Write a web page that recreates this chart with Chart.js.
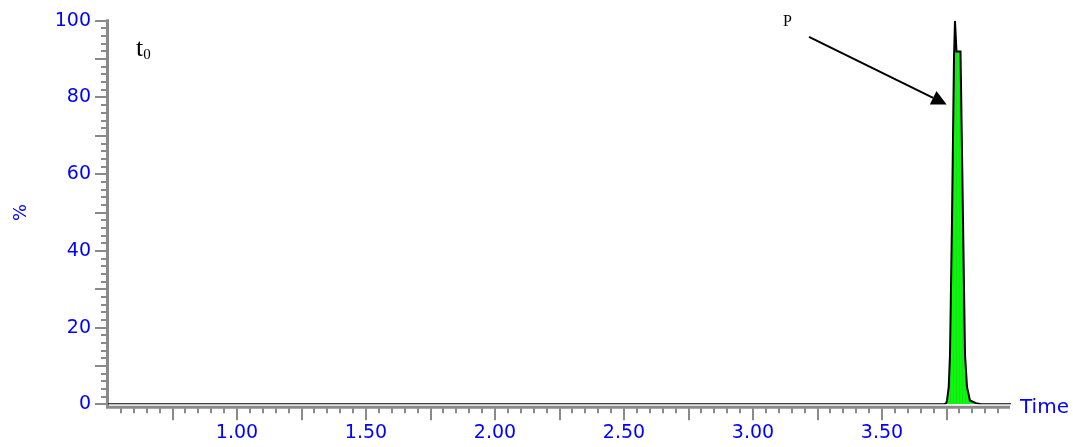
<!DOCTYPE html>
<html>
<head>
<meta charset="utf-8">
<script src="https://cdn.jsdelivr.net/npm/chart.js@4.4.1/dist/chart.umd.min.js"></script>
<style>
  html, body { margin: 0; padding: 0; background: #ffffff; overflow: hidden; }
  #wrap { width: 1073px; height: 447px; }
</style>
</head>
<body>
<div id="wrap"><canvas id="c" width="1073" height="447"></canvas></div>
<script>
// Chromatogram trace: retention time (min) and relative intensity (%)
const times     = [0.50, 3.740, 3.748, 3.752, 3.7586, 3.7636, 3.7713, 3.7790, 3.7829, 3.7887, 3.8043, 3.8140, 3.8217, 3.8295, 3.8410, 3.8643, 3.8840, 4.00];
const intensity = [0,    0,     0.2,   1.0,   4.5,    13,     48,     90,     100,    92,     92,     48,     13,     4.5,    1.0,    0.3,    0,      0];

// Axis tick labels
const xTickLabels = ['1.00', '1.50', '2.00', '2.50', '3.00', '3.50'];
const yTickLabels = ['0', '20', '40', '60', '80', '100'];

// Annotation texts
const traceLabel = 't';
const traceSub = '0';
const peakLabel = 'P';
const xTitle = 'Time';
const yTitle = '%';

const BLUE = '#0000ff';
const SANS = '"DejaVu Sans", Verdana, sans-serif';
const SERIF = '"Liberation Serif", "Times New Roman", serif';

const canvas = document.getElementById('c');
const ctx = canvas.getContext('2d');

// Striped green fill for the integrated peak
const pc = document.createElement('canvas');
pc.width = 3; pc.height = 1;
const pctx = pc.getContext('2d');
pctx.fillStyle = '#00ff00';
pctx.fillRect(0, 0, 3, 1);
pctx.fillStyle = '#27d427';
pctx.fillRect(2, 0, 1, 1);
const stripes = ctx.createPattern(pc, 'repeat');

// Gray axis lines with minor/major tick marks
const axisDecor = {
  id: 'axisDecor',
  beforeDatasetsDraw(chart) {
    const { ctx, chartArea: a, scales: { x, y } } = chart;
    ctx.save();
    ctx.strokeStyle = '#8a8a8a';
    ctx.lineWidth = 3;
    ctx.beginPath();
    ctx.moveTo(a.left - 0.5, a.top - 1.5);
    ctx.lineTo(a.left - 0.5, a.bottom + 4.5);
    ctx.moveTo(a.left - 2, a.bottom + 3);
    ctx.lineTo(a.right - 1, a.bottom + 3);
    ctx.stroke();

    ctx.lineWidth = 2;
    ctx.beginPath();
    for (let k = 0; k <= 50; k++) {
      const v = k * 2;
      const py = Math.round(y.getPixelForValue(v));
      const len = v % 10 === 0 ? 11 : 5;
      ctx.moveTo(a.left - 2, py);
      ctx.lineTo(a.left - 2 - len, py);
    }
    for (let k = 11; k <= 79; k++) {
      const px = Math.round(x.getPixelForValue(k * 0.05));
      const len = k % 5 === 0 ? 12 : 5;
      ctx.moveTo(px, a.bottom + 4);
      ctx.lineTo(px, a.bottom + 4 + len);
    }
    ctx.stroke();
    ctx.restore();
  },
  afterDraw(chart) {
    const { ctx, chartArea: a, scales: { x, y } } = chart;
    ctx.save();
    // axis caption at the right end of the time axis
    ctx.fillStyle = BLUE;
    ctx.font = '20px ' + SANS;
    ctx.textBaseline = 'alphabetic';
    ctx.textAlign = 'left';
    ctx.fillText(xTitle, a.right + 9, a.bottom + 9);

    // trace name
    ctx.fillStyle = '#000000';
    const tx = x.getPixelForValue(0.609);
    const ty = y.getPixelForValue(90.8);
    ctx.font = '26px ' + SERIF;
    ctx.fillText(traceLabel, tx, ty);
    const tw = ctx.measureText(traceLabel).width;
    ctx.font = '15px ' + SERIF;
    ctx.fillText(traceSub, tx + tw, ty + 2.5);

    // peak label with arrow
    ctx.font = '16px ' + SERIF;
    ctx.fillText(peakLabel, x.getPixelForValue(3.116), y.getPixelForValue(98.6));

    const x0 = x.getPixelForValue(3.217), y0 = y.getPixelForValue(95.8);
    const x1 = x.getPixelForValue(3.7505), y1 = y.getPixelForValue(78.2);
    const ang = Math.atan2(y1 - y0, x1 - x0);
    const L = 15, W = 7.5;
    const bx = x1 - L * Math.cos(ang), by = y1 - L * Math.sin(ang);
    ctx.strokeStyle = '#000000';
    ctx.lineWidth = 2;
    ctx.beginPath();
    ctx.moveTo(x0, y0);
    ctx.lineTo(bx, by);
    ctx.stroke();
    ctx.fillStyle = '#000000';
    ctx.beginPath();
    ctx.moveTo(x1, y1);
    ctx.lineTo(bx - W * Math.sin(ang), by + W * Math.cos(ang));
    ctx.lineTo(bx + W * Math.sin(ang), by - W * Math.cos(ang));
    ctx.closePath();
    ctx.fill();
    ctx.restore();
  }
};

new Chart(canvas, {
  type: 'line',
  data: {
    datasets: [{
      data: times.map((t, i) => ({ x: t, y: intensity[i] })),
      borderColor: '#000000',
      borderWidth: 2,
      backgroundColor: stripes,
      fill: 'origin',
      tension: 0,
      pointRadius: 0,
      pointHoverRadius: 0
    }]
  },
  options: {
    responsive: false,
    animation: false,
    events: [],
    layout: { padding: { top: 20.8, right: 62, bottom: 0, left: 0 } },
    plugins: { legend: { display: false }, tooltip: { enabled: false } },
    scales: {
      x: {
        type: 'linear',
        min: 0.5,
        max: 4.0,
        grid: { display: false, drawTicks: false },
        border: { display: false },
        afterBuildTicks: s => { s.ticks = xTickLabels.map(l => ({ value: parseFloat(l) })); },
        afterFit: s => { s.height = 42.7; s.paddingLeft = 0; s.paddingRight = 0; },
        ticks: {
          autoSkip: false,
          maxRotation: 0,
          padding: 17,
          color: BLUE,
          font: { family: SANS, size: 19 },
          callback: (v) => xTickLabels.find(l => Math.abs(parseFloat(l) - v) < 1e-6) || ''
        }
      },
      y: {
        type: 'linear',
        min: 0,
        max: 100,
        grid: { display: false, drawTicks: false },
        border: { display: false },
        afterBuildTicks: s => { s.ticks = yTickLabels.map(l => ({ value: parseFloat(l) })); },
        afterFit: s => { s.width = 108; s.paddingTop = 0; s.paddingBottom = 0; },
        ticks: {
          autoSkip: false,
          padding: 17,
          color: BLUE,
          font: { family: SANS, size: 19 },
          callback: (v) => yTickLabels.find(l => Math.abs(parseFloat(l) - v) < 1e-6) || ''
        },
        title: {
          display: true,
          text: yTitle,
          color: BLUE,
          font: { family: SANS, size: 18 },
          padding: { top: 11, bottom: 0 }
        }
      }
    }
  },
  plugins: [axisDecor]
});
</script>
</body>
</html>
